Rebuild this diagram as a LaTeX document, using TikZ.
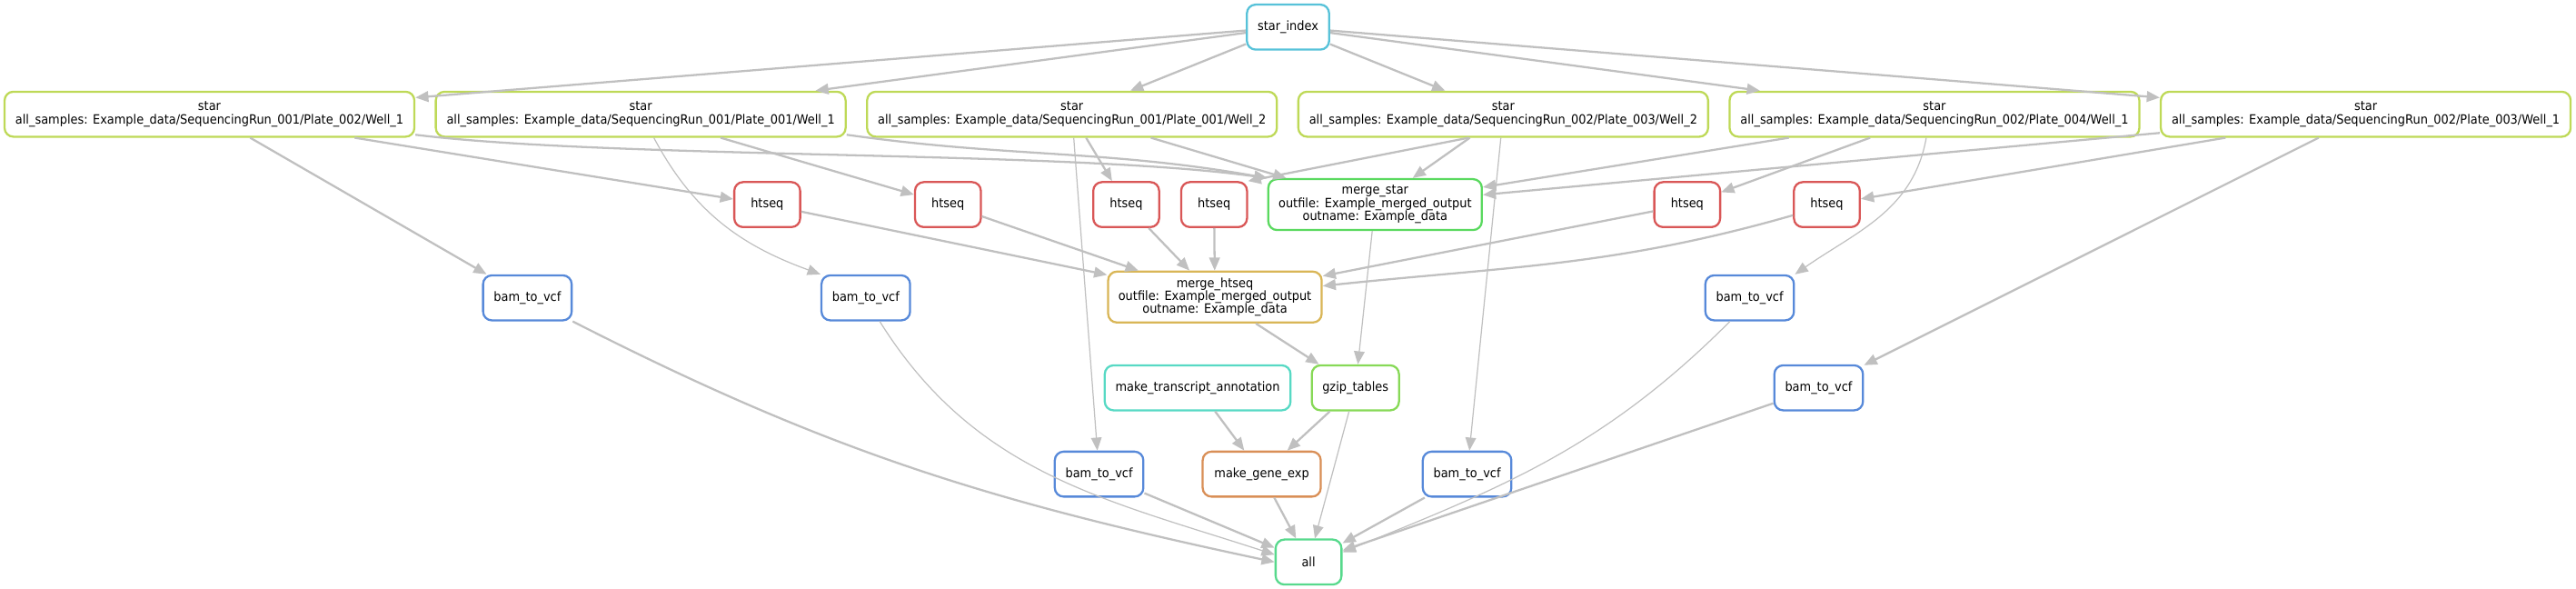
\documentclass[tikz,border=0pt]{standalone}
\usepackage{fontspec}
\setmainfont{DejaVu Sans}[FakeStretch=0.92]
\usetikzlibrary{arrows.meta}

\definecolor{cidx}{RGB}{87,194,217}
\definecolor{cstar}{RGB}{190,217,87}
\definecolor{chtseq}{RGB}{217,87,87}
\definecolor{cmstar}{RGB}{90,217,95}
\definecolor{cmhtseq}{RGB}{217,182,87}
\definecolor{cbam}{RGB}{87,137,217}
\definecolor{canno}{RGB}{87,217,196}
\definecolor{cgzip}{RGB}{135,217,87}
\definecolor{cgexp}{RGB}{217,143,87}
\definecolor{call}{RGB}{87,217,140}
\definecolor{cedge}{RGB}{192,192,192}

\begin{document}
\begin{tikzpicture}[x=0.3616mm,y=-0.3616mm,>={Triangle[length=0.286cm,width=0.234cm]},
  rule/.style={draw=#1,line width=1.3pt,rounded corners=5.5pt,fill=white,align=center,
    inner sep=1pt,minimum height=0.99cm,font=\fontsize{8}{8.2}\selectfont},
  dep/.style={->,draw=cedge,line width=1.3pt},
  depthin/.style={->,draw=cedge,line width=0.7pt}]
  \useasboundingbox (0,0) rectangle (1568,358);

  \node[rule=cidx,minimum width=1.81cm] (idx) at (784,16.5) {star\_index};

  \node[rule=cstar,minimum width=9.02cm] (s1) at (127.5,69.5) {star\\all\_samples: Example\_data/SequencingRun\_001/Plate\_002/Well\_1};
  \node[rule=cstar,minimum width=9.02cm] (s2) at (390,69.5) {star\\all\_samples: Example\_data/SequencingRun\_001/Plate\_001/Well\_1};
  \node[rule=cstar,minimum width=9.02cm] (s3) at (652.5,69.5) {star\\all\_samples: Example\_data/SequencingRun\_001/Plate\_001/Well\_2};
  \node[rule=cstar,minimum width=9.02cm] (s4) at (915,69.5) {star\\all\_samples: Example\_data/SequencingRun\_002/Plate\_003/Well\_2};
  \node[rule=cstar,minimum width=9.02cm] (s5) at (1177.5,69.5) {star\\all\_samples: Example\_data/SequencingRun\_002/Plate\_004/Well\_1};
  \node[rule=cstar,minimum width=9.02cm] (s6) at (1440,69.5) {star\\all\_samples: Example\_data/SequencingRun\_002/Plate\_003/Well\_1};

  \node[rule=chtseq,minimum width=1.45cm] (h1) at (467,124.5) {htseq};
  \node[rule=chtseq,minimum width=1.45cm] (h2) at (577,124.5) {htseq};
  \node[rule=chtseq,minimum width=1.45cm] (h3) at (685.5,124.5) {htseq};
  \node[rule=chtseq,minimum width=1.45cm] (h4) at (739,124.5) {htseq};
  \node[rule=cmstar,minimum width=4.7cm,minimum height=1.12cm] (mstar) at (837,124.5) {merge\_star\\outfile: Example\_merged\_output\\outname: Example\_data};
  \node[rule=chtseq,minimum width=1.45cm] (h5) at (1027,124.5) {htseq};
  \node[rule=chtseq,minimum width=1.45cm] (h6) at (1112,124.5) {htseq};

  \node[rule=cbam,minimum width=1.95cm] (b1) at (321,181.25) {bam\_to\_vcf};
  \node[rule=cbam,minimum width=1.95cm] (b2) at (527,181.25) {bam\_to\_vcf};
  \node[rule=cmhtseq,minimum width=4.7cm,minimum height=1.12cm] (mhtseq) at (739.5,180.75) {merge\_htseq\\outfile: Example\_merged\_output\\outname: Example\_data};
  \node[rule=cbam,minimum width=1.95cm] (b5) at (1065,181.25) {bam\_to\_vcf};

  \node[rule=canno,minimum width=4.09cm] (anno) at (729,236) {make\_transcript\_annotation};
  \node[rule=cgzip,minimum width=1.92cm] (gzip) at (825,236) {gzip\_tables};
  \node[rule=cbam,minimum width=1.95cm] (b6) at (1107,236) {bam\_to\_vcf};

  \node[rule=cbam,minimum width=1.95cm] (b3) at (669,288.5) {bam\_to\_vcf};
  \node[rule=cgexp,minimum width=2.6cm] (gexp) at (768,288.5) {make\_gene\_exp};
  \node[rule=cbam,minimum width=1.95cm] (b4) at (893,288.5) {bam\_to\_vcf};

  \node[rule=call,minimum width=1.45cm] (all) at (796.5,342) {all};

  \draw[dep] (idx) -- (s1);
  \draw[dep] (idx) -- (s2);
  \draw[dep] (idx) -- (s3);
  \draw[dep] (idx) -- (s4);
  \draw[dep] (idx) -- (s5);
  \draw[dep] (idx) -- (s6);

  \draw[dep] (s1) -- (b1);
  \draw[dep] (s1) -- (h1);
  \draw[dep] ([shift={(0,12.5)}]s1.east) to[out=-7,in=172,looseness=0.6] (mstar.north west);
  \draw[depthin] ([shift={(8,0)}]s2.south) to[out=-62,in=160] (b2.north west);
  \draw[dep] (s2) -- (h2);
  \draw[dep] ([shift={(0,12.5)}]s2.east) to[out=-8,in=170] (mstar.north west);
  \draw[depthin] (s3) -- (b3);
  \draw[dep] (s3) -- (h3);
  \draw[dep] (s3) -- (mstar);
  \draw[dep] ([shift={(-21,0)}]s4.south) -- (h4.north east);
  \draw[dep] (s4) -- (mstar);
  \draw[depthin] (s4) -- (b4);
  \draw[dep] (s5) -- (h5);
  \draw[depthin] ([shift={(-5,0)}]s5.south) to[out=-100,in=35] (b5.north east);
  \draw[dep] (s5) -- (mstar);
  \draw[dep] (s6) -- (h6);
  \draw[dep] (s6) -- (b6);
  \draw[dep] (s6) -- (mstar);

  \draw[dep] (h1) -- (mhtseq);
  \draw[dep] (h2) -- (mhtseq);
  \draw[dep] (h3) -- (mhtseq);
  \draw[dep] (h4) -- (mhtseq);
  \draw[dep] (h5) -- (mhtseq);
  \draw[dep] ([shift={(0,6.5)}]h6.west) to[out=196,in=6] ([shift={(0,-6.75)}]mhtseq.east);

  \draw[depthin] (mstar) -- (gzip);
  \draw[dep] (mhtseq) -- (gzip);
  \draw[dep] (anno) -- (gexp);
  \draw[dep] (gzip) -- (gexp);
  \draw[depthin] (gzip) -- (all);
  \draw[dep] (gexp) -- (all);
  \draw[dep] (b3) -- (all);
  \draw[dep] (b4) -- (all);
  \draw[dep] (b6) -- (all);
  \draw[dep] (b1.south east) to[out=-27,in=168] (all.west);
  \draw[depthin] ([shift={(8.5,0)}]b2.south) to[out=-58,in=162] ([shift={(0,-4.5)}]all.west);
  \draw[depthin] ([shift={(-12,0)}]b5.south) to[out=-135,in=22] ([shift={(0,-6)}]all.east);
\end{tikzpicture}
\end{document}
